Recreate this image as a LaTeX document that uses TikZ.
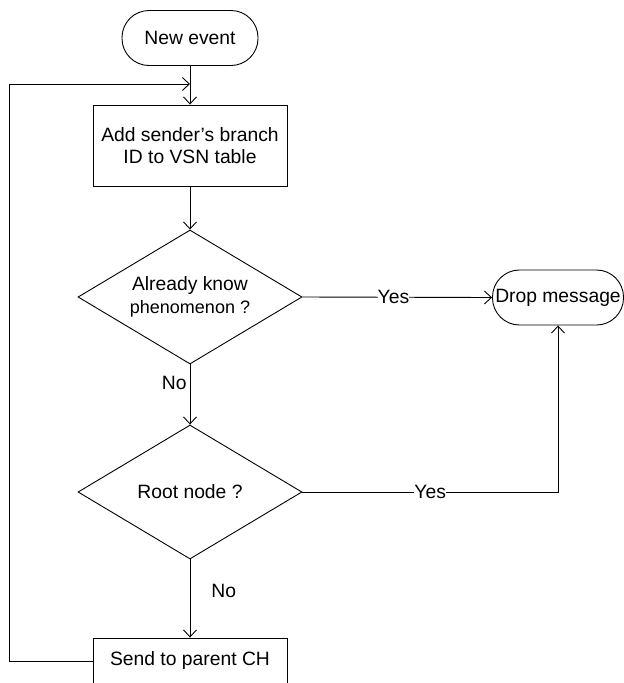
\documentclass[tikz,border=0pt]{standalone}
\usepackage{fontspec}
\setmainfont{Liberation Sans}
\usetikzlibrary{shapes.geometric,arrows.meta}
\begin{document}
\begin{tikzpicture}[x=1pt,y=-1pt,
  every node/.style={font=\fontsize{19.3}{22.5}\selectfont, inner sep=0pt, line width=0.9pt},
  terminal/.style={draw, rectangle, rounded corners=27pt, minimum height=55pt},
  process/.style={draw, rectangle, minimum width=194pt, align=center},
  decision/.style={draw, diamond, minimum width=224pt, minimum height=134pt, aspect=1.67, align=center},
  flow/.style={line width=0.9pt, -{Straight Barb[length=7pt,width=13pt,line width=0.9pt]}},
  tag/.style={fill=white, inner xsep=0pt, inner ysep=2pt}]
\useasboundingbox (0,0) rectangle (624,683);
\fill[white] (0,0) rectangle (624,683);

\node[terminal, minimum width=136pt] (new) at (190,38) {New event};
\node[process, minimum height=81pt] (add) at (190,145.5) {Add sender’s branch\\ID to VSN table};
\node[decision] (q1) at (190,297) {Already know\\{\fontsize{18}{22}\selectfont phenomenon ?}};
\node[terminal, minimum width=131pt] (drop) at (558,297.5) {Drop message};
\node[decision] (q2) at (190,492) {Root node ?};
\node[process, minimum height=46pt] (send) at (190,661) {Send to parent CH};

\coordinate (merge) at (190,84);

\draw[flow] (new) -- (add);
\draw[flow] (send.west) -- ++(-83,0) |- (merge);
\draw[flow] (add) -- (q1);
\draw[flow] (q1.east) -- node[tag, pos=0.48] {Yes} (drop.west);
\draw[flow] (q1.south) -- node[pos=0.3, left=3pt] {No} (q2.north);
\draw[flow] (q2.east) -| node[tag, pos=0.25] {Yes} (drop.south);
\draw[flow] (q2.south) -- node[pos=0.4, right=21pt] {No} (send.north);
\end{tikzpicture}
\end{document}
